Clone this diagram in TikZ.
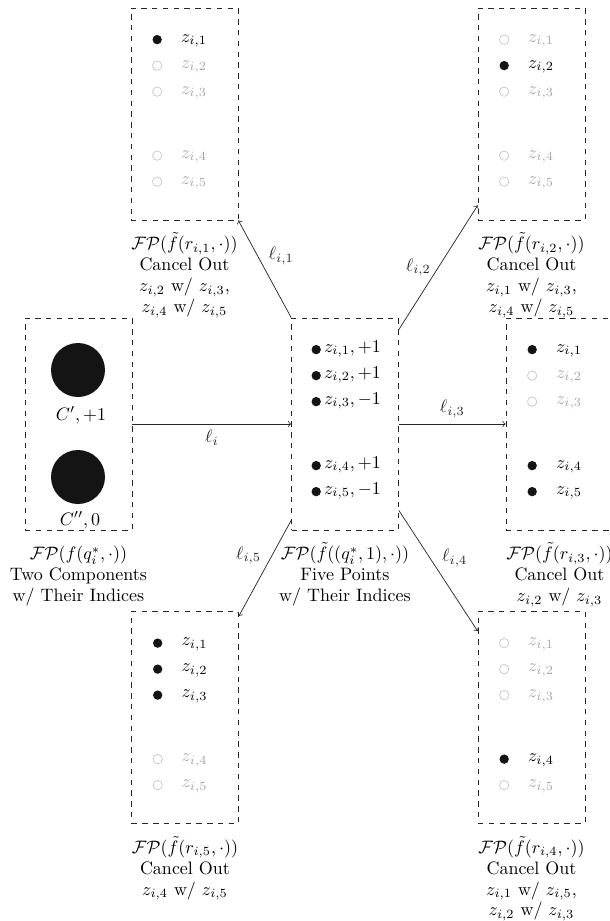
\documentclass[tikz,border=0pt]{standalone}
\usetikzlibrary{calc}
\newcommand{\zptrow}[5]{%
  \node[#4] (#1-d#2) at ($(#1.north west)+(26.5,#3)$) {};
  \node[#5] (#1-z#2) at ($(#1.north west)+(50,#3+2.5)$) {$z_{i,#2}$};
}
\newcommand{\capstrut}{\rule{0pt}{10pt}}
\begin{document}
\begin{tikzpicture}[x=0.55556pt,y=-0.55556pt,
  box/.style={draw=black!85, dashed, minimum width=59.4pt, minimum height=117.8pt, inner sep=0pt},
  dot/.style={circle, fill=black!92, minimum size=5.2pt, inner sep=0pt},
  odot/.style={circle, draw=black!22, minimum size=5.2pt, inner sep=0pt},
  bigdot/.style={circle, fill=black!92, minimum size=30pt, inner sep=0pt},
  lbl/.style={anchor=base west, inner sep=0pt},
  glbl/.style={lbl, text=black!35},
  captext/.style={anchor=north, align=center, inner sep=0pt, font={\fontsize{10}{11.6}\selectfont}},
  conn/.style={->, black!85},
]
\useasboundingbox (0,0) rectangle (610,921);

% boxes
\node[box] (TL) at (184.5,114) {};
\node[box] (TR) at (531.5,114) {};
\node[box] (LM) at (78.5,424) {};
\node[box] (C)  at (345,424) {};
\node[box] (RM) at (559.5,424) {};
\node[box] (BL) at (185,717.5) {};
\node[box] (BR) at (531.5,717.5) {};

% top-left
\zptrow{TL}{1}{32}{dot}{lbl}
\zptrow{TL}{2}{58}{odot}{glbl}
\zptrow{TL}{3}{84}{odot}{glbl}
\zptrow{TL}{4}{148}{odot}{glbl}
\zptrow{TL}{5}{174}{odot}{glbl}
% top-right
\zptrow{TR}{1}{32}{odot}{glbl}
\zptrow{TR}{2}{58}{dot}{lbl}
\zptrow{TR}{3}{84}{odot}{glbl}
\zptrow{TR}{4}{148}{odot}{glbl}
\zptrow{TR}{5}{174}{odot}{glbl}
% right-middle
\zptrow{RM}{1}{32}{dot}{lbl}
\zptrow{RM}{2}{58}{odot}{glbl}
\zptrow{RM}{3}{84}{odot}{glbl}
\zptrow{RM}{4}{148}{dot}{lbl}
\zptrow{RM}{5}{174}{dot}{lbl}
% bottom-left
\zptrow{BL}{1}{32}{dot}{lbl}
\zptrow{BL}{2}{58}{dot}{lbl}
\zptrow{BL}{3}{84}{dot}{lbl}
\zptrow{BL}{4}{148}{odot}{glbl}
\zptrow{BL}{5}{174}{odot}{glbl}
% bottom-right
\zptrow{BR}{1}{32}{odot}{glbl}
\zptrow{BR}{2}{58}{odot}{glbl}
\zptrow{BR}{3}{84}{odot}{glbl}
\zptrow{BR}{4}{148}{dot}{lbl}
\zptrow{BR}{5}{174}{odot}{glbl}

% center
\foreach \k/\yo/\s in {1/32/+1, 2/58/+1, 3/84/-1, 4/148/+1, 5/174/-1}{
  \node[dot] (C-d\k) at ($(C.north west)+(25,\yo)$) {};
  \node[lbl] (C-z\k) at ($(C.north west)+(32.5,\yo+2.5)$) {$z_{i,\k}, \s$};
}

% left-middle
\node[bigdot] (Cp)  at (78,370) {};
\node[bigdot] (Cpp) at (78,477) {};
\node[anchor=base, inner sep=0pt] (Cpl)  at (81,420) {$C', +1$};
\node[anchor=base, inner sep=0pt] (Cppl) at (80,525) {$C'', 0$};

% captions
\node[captext] (TLc) at ($(TL.south)+(0,11)$) {\capstrut$\mathcal{FP}(\tilde{f}(r_{i,1},\cdot))$\\Cancel Out\\$z_{i,2}$ w/ $z_{i,3}$,\\$z_{i,4}$ w/ $z_{i,5}$};
\node[captext] (TRc) at ($(TR.south)+(0,11)$) {\capstrut$\mathcal{FP}(\tilde{f}(r_{i,2},\cdot))$\\Cancel Out\\$z_{i,1}$ w/ $z_{i,3}$,\\$z_{i,4}$ w/ $z_{i,5}$};
\node[captext] (LMc) at ($(LM.south)+(0,11)$) {\capstrut$\mathcal{FP}(f(q_i^*,\cdot))$\\Two Components\\w/ Their Indices};
\node[captext] (Cc)  at ($(C.south)+(0,11)$) {\capstrut$\mathcal{FP}(\tilde{f}((q_i^*,1),\cdot))$\\Five Points\\w/ Their Indices};
\node[captext] (RMc) at ($(RM.south)+(0,11)$) {\capstrut$\mathcal{FP}(\tilde{f}(r_{i,3},\cdot))$\\Cancel Out\\$z_{i,2}$ w/ $z_{i,3}$};
\node[captext] (BLc) at ($(BL.south)+(0,11)$) {\capstrut$\mathcal{FP}(\tilde{f}(r_{i,5},\cdot))$\\Cancel Out\\$z_{i,4}$ w/ $z_{i,5}$};
\node[captext] (BRc) at ($(BR.south)+(0,11)$) {\capstrut$\mathcal{FP}(\tilde{f}(r_{i,4},\cdot))$\\Cancel Out\\$z_{i,1}$ w/ $z_{i,5}$,\\$z_{i,2}$ w/ $z_{i,3}$};

% connectors
\draw[conn] (LM.east) -- node[below] {$\ell_i$} (C.west);
\draw[conn] (C.east) -- node[above] {$\ell_{i,3}$} (RM.west);
\draw[conn] (C.north west) -- node[above right, inner sep=2pt] {$\ell_{i,1}$} (TL.south east);
\draw[conn] ($(C.north east)+(0,12)$) -- node[left, inner sep=4pt] {$\ell_{i,2}$} ($(TR.south west)+(0,-15)$);
\draw[conn] ($(C.south west)+(0,-10)$) -- node[above left, inner sep=2pt] {$\ell_{i,5}$} ($(BL.north east)+(0,5)$);
\draw[conn] ($(C.south east)+(0,-20)$) -- node[above right, inner sep=2pt] {$\ell_{i,4}$} ($(BR.north west)+(0,20)$);
\end{tikzpicture}
\end{document}
